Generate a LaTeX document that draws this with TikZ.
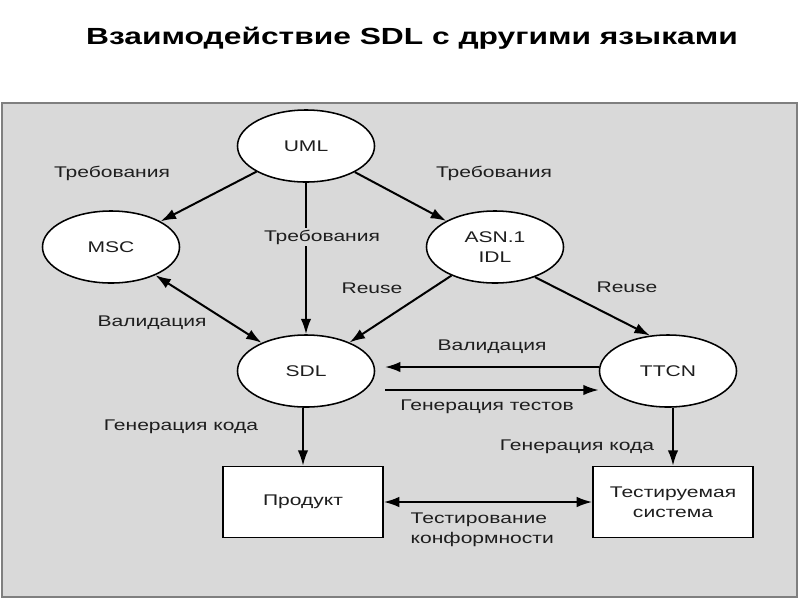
\documentclass[tikz,border=0pt]{standalone}
\usepackage{fontspec}
\setmainfont{Liberation Sans}[FakeStretch=1.36]
\usetikzlibrary{arrows.meta,shapes.geometric}
\definecolor{panelgray}{HTML}{D9D9D9}
\definecolor{bordergray}{HTML}{7F7F7F}
\definecolor{txt}{HTML}{1E1E1E}
\begin{document}
\begin{tikzpicture}[x=0.025cm,y=-0.025cm,
  lang/.style={ellipse,draw=black,line width=1.1pt,fill=white,minimum width=3.425cm,minimum height=1.8cm,inner sep=0pt,text=txt,font=\fontsize{11}{14.2}\selectfont},
  box/.style={rectangle,draw=black,line width=1.1pt,fill=white,minimum width=4cm,minimum height=1.775cm,inner sep=0pt,text=txt,font=\fontsize{11}{14.2}\selectfont},
  lbl/.style={font=\fontsize{11}{14.2}\selectfont,inner sep=1pt,text=txt},
  conn/.style={line width=1.42pt,-{Latex[length=11pt,width=7.5pt]}},
  both/.style={line width=1.42pt,{Latex[length=11pt,width=7.5pt]}-{Latex[length=11pt,width=7.5pt]}}
]
\useasboundingbox (0,0) rectangle (800,600);
\fill[white] (0,0) rectangle (800,600);
\draw[fill=panelgray,draw=bordergray,line width=1.4pt] (2,103) rectangle (797,597);

\node[font=\fontsize{16.6}{20}\selectfont\bfseries] (title) at (412,38) {Взаимодействие SDL с другими языками};

\node[lang] (UML) at (306,146) {UML};
\node[lang] (MSC) at (111,247) {MSC};
\node[lang,align=center] (ASN) at (495,247) {ASN.1\\IDL};
\node[lang] (SDL) at (306,371) {SDL};
\node[lang] (TTCN) at (668,371) {TTCN};
\node[box] (P) at (303,502) {Продукт};
\node[box,align=center] (T) at (673,502) {Тестируемая\\система};

\coordinate (v1) at (385,367);
\coordinate (g1) at (385,390);

\draw[conn] (UML) -- (MSC);
\draw[conn] (UML) -- (ASN);
\draw[conn] (UML) -- (SDL);
\draw[both] (MSC) -- (SDL);
\draw[conn] (ASN) -- (SDL);
\draw[conn] (ASN.-37) -- (TTCN.117);
\draw[conn] (TTCN.west |- v1) -- (v1);
\draw[conn] (g1) -- (g1 -| TTCN.west);
\draw[conn] (P.north |- SDL.south) -- (P.north);
\draw[conn] (T.north |- TTCN.south) -- (T.north);
\draw[both] (P.east) -- (T.west);

\node[lbl] (l1) at (112,173) {Требования};
\node[lbl,fill=panelgray] (l2) at (322,237) {Требования};
\node[lbl] (l3) at (494,173) {Требования};
\node[lbl] (l4) at (372,288) {Reuse};
\node[lbl] (l5) at (627,287) {Reuse};
\node[lbl] (l6) at (152,323) {Валидация};
\node[lbl] (l7) at (492,347) {Валидация};
\node[lbl] (l8) at (487,407) {Генерация тестов};
\node[lbl] (l9) at (181,427) {Генерация кода};
\node[lbl] (l10) at (577,447) {Генерация кода};
\node[lbl,align=left,anchor=west] (l11) at (409,530) {Тестирование\\конформности};
\end{tikzpicture}
\end{document}
